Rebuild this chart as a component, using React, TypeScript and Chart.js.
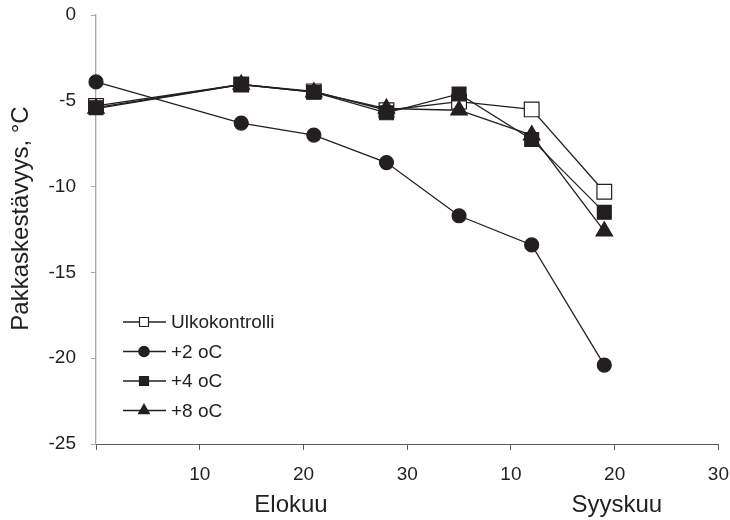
import React, { useEffect, useRef } from 'react';
import { Chart, registerables } from 'chart.js';

Chart.register(...registerables);

// ---- data ----
const days = [0, 14, 21, 28, 35, 42, 49];
const ulkokontrolli = [-5.3, -4.05, -4.45, -5.55, -5.05, -5.5, -10.3];
const plus2 = [-3.9, -6.3, -7.0, -8.6, -11.7, -13.4, -20.4];
const plus4 = [-5.4, -4.05, -4.5, -5.7, -4.6, -7.25, -11.5];
const plus8 = [-5.45, -4.05, -4.5, -5.45, -5.55, -7.0, -12.6];
const seriesNames = ['Ulkokontrolli', '+2 oC', '+4 oC', '+8 oC'];
const xTickValues = [0, 10, 20, 30, 40, 50, 60];
const xTickLabels = ['', '10', '20', '30', '10', '20', '30'];
const monthNames = ['Elokuu', 'Syyskuu'];
const monthCenters = [18.8, 50.2];
const yTitle = 'Pakkaskestävyys, °C';

const INK = '#231f20';
const FONT = '"Liberation Sans", Arial, Helvetica, sans-serif';

const toPts = (ys: number[]) => ys.map((y, i) => ({ x: days[i], y }));

function drawMarker(ctx: CanvasRenderingContext2D, style: string, fill: string, x: number, y: number) {
  ctx.save();
  ctx.fillStyle = fill;
  ctx.strokeStyle = INK;
  ctx.lineWidth = 1.2;
  ctx.beginPath();
  if (style === 'circle') {
    ctx.arc(x, y, 5.2, 0, Math.PI * 2);
  } else if (style === 'rect') {
    ctx.rect(x - 4.5, y - 4.5, 9, 9);
  } else {
    const r = 6.2;
    ctx.moveTo(x, y - r);
    ctx.lineTo(x + r * 0.866, y + r * 0.5);
    ctx.lineTo(x - r * 0.866, y + r * 0.5);
    ctx.closePath();
  }
  ctx.fill();
  ctx.stroke();
  ctx.restore();
}

const overlayPlugin = {
  id: 'overlay',
  afterDraw(chart: any) {
    const { ctx, chartArea, scales } = chart;
    ctx.save();
    // y axis title
    ctx.save();
    ctx.font = `24px ${FONT}`;
    ctx.fillStyle = INK;
    ctx.textAlign = 'center';
    ctx.textBaseline = 'middle';
    ctx.translate(21, (chartArea.top + chartArea.bottom) / 2 - 11);
    ctx.rotate(-Math.PI / 2);
    ctx.fillText(yTitle, 0, 0);
    ctx.restore();
    // month labels
    ctx.font = `24px ${FONT}`;
    ctx.fillStyle = INK;
    ctx.textAlign = 'center';
    ctx.textBaseline = 'middle';
    monthNames.forEach((m, i) => {
      ctx.fillText(m, scales.x.getPixelForValue(monthCenters[i]), chartArea.bottom + 61);
    });
    // legend
    const lx = chartArea.left + 27;
    const ly = chartArea.top + 307;
    ctx.font = `19px ${FONT}`;
    ctx.textAlign = 'left';
    chart.data.datasets.forEach((ds: any, i: number) => {
      const y = ly + i * 29.5;
      ctx.strokeStyle = INK;
      ctx.lineWidth = 1.3;
      ctx.beginPath();
      ctx.moveTo(lx, y);
      ctx.lineTo(lx + 43, y);
      ctx.stroke();
      drawMarker(ctx, ds.pointStyle, ds.pointBackgroundColor, lx + 21, y);
      ctx.fillStyle = INK;
      ctx.fillText(seriesNames[i], lx + 48, y + 1);
    });
    ctx.restore();
  },
};

export default function App() {
  const ref = useRef<HTMLCanvasElement | null>(null);

  useEffect(() => {
    if (!ref.current) return;
    const common = {
      borderColor: INK,
      borderWidth: 1.3,
      pointBorderColor: INK,
      pointBorderWidth: 1.2,
      showLine: true,
      clip: false as any,
      tension: 0,
    };
    const chart = new Chart(ref.current, {
      type: 'line',
      data: {
        datasets: [
          {
            ...common,
            label: seriesNames[0],
            data: toPts(ulkokontrolli),
            pointStyle: 'rect',
            pointRadius: 10.4,
            pointBackgroundColor: '#ffffff',
            order: 2,
          },
          {
            ...common,
            label: seriesNames[1],
            data: toPts(plus2),
            pointStyle: 'circle',
            pointRadius: 7,
            pointBackgroundColor: INK,
            order: 3,
          },
          {
            ...common,
            label: seriesNames[2],
            data: toPts(plus4),
            pointStyle: 'rect',
            pointRadius: 9.8,
            pointBackgroundColor: INK,
            order: 0,
          },
          {
            ...common,
            label: seriesNames[3],
            data: toPts(plus8),
            pointStyle: 'triangle',
            pointRadius: 9.5,
            pointBackgroundColor: INK,
            order: 1,
          },
        ] as any,
      },
      options: {
        responsive: false,
        animation: false,
        events: [],
        layout: { padding: { top: 15, right: 8, left: 0, bottom: 0 } },
        plugins: {
          legend: { display: false },
          tooltip: { enabled: false },
          title: { display: false },
        },
        scales: {
          x: {
            type: 'linear',
            min: 0,
            max: 60,
            afterBuildTicks: (scale: any) => {
              scale.ticks = xTickValues.map((v) => ({ value: v }));
            },
            afterFit: (scale: any) => {
              scale.height = 76;
              scale.paddingLeft = 0;
              scale.paddingRight = 0;
            },
            grid: { drawOnChartArea: false, drawTicks: true, tickLength: 6, color: '#5a5a5a', lineWidth: 1 },
            border: { display: true, color: '#5a5a5a', width: 1 },
            ticks: {
              color: INK,
              font: { family: FONT, size: 19 },
              padding: 13,
              maxRotation: 0,
              autoSkip: false,
              callback: (v: any) => xTickLabels[xTickValues.indexOf(Number(v))] ?? '',
            },
          },
          y: {
            type: 'linear',
            min: -25,
            max: 0,
            afterFit: (scale: any) => {
              scale.width = 96;
              scale.paddingTop = 0;
              scale.paddingBottom = 0;
            },
            grid: { drawOnChartArea: false, drawTicks: true, tickLength: 5, color: '#a8a8a8', lineWidth: 1 },
            border: { display: true, color: '#a8a8a8', width: 1.3 },
            ticks: {
              stepSize: 5,
              color: INK,
              font: { family: FONT, size: 19 },
              padding: 15,
            },
            title: { display: false },
          },
        },
      } as any,
      plugins: [overlayPlugin],
    });
    return () => chart.destroy();
  }, []);

  return (
    <div style={{ position: 'fixed', left: 0, top: 0, width: 730, height: 520, background: '#fff' }}>
      <canvas ref={ref} width={730} height={520} style={{ display: 'block' }} />
    </div>
  );
}
